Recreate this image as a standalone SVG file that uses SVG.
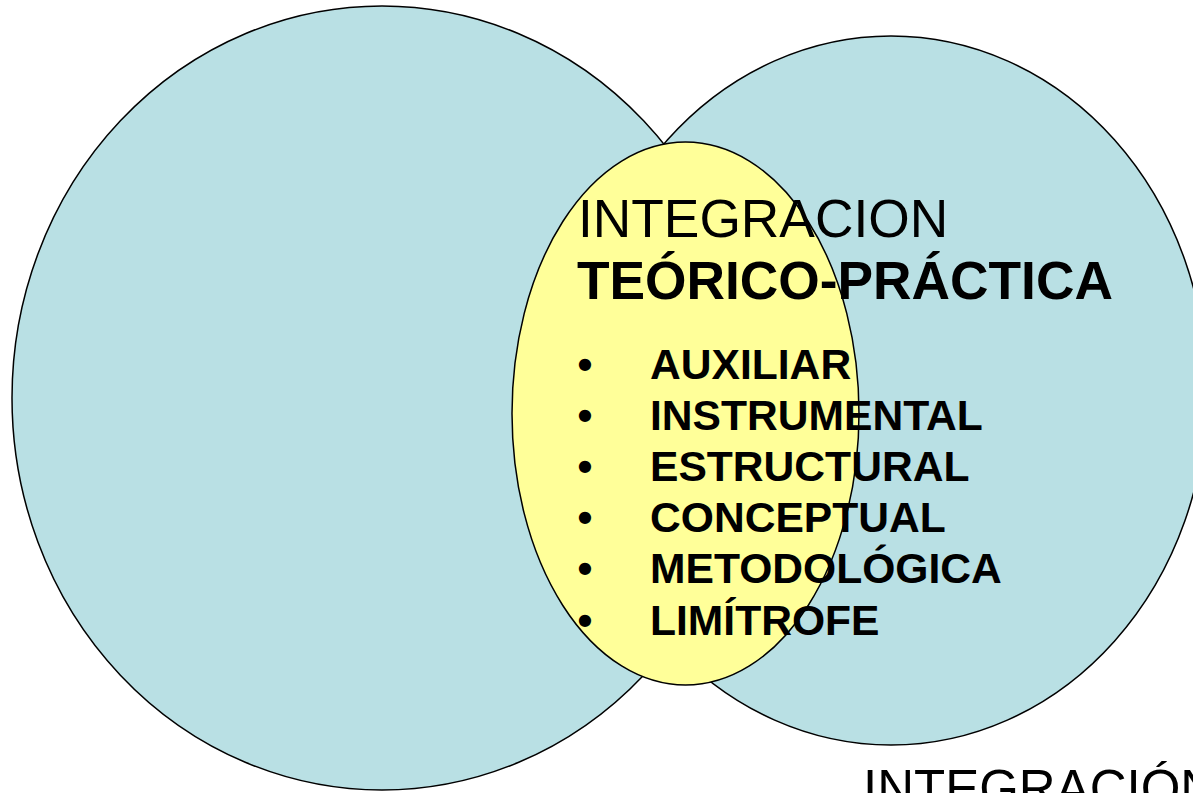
<svg xmlns="http://www.w3.org/2000/svg" width="1193" height="793" viewBox="0 0 1193 793">
<style>
.circle{fill:#B9E0E4;stroke:#000;stroke-width:1.5}
.core{fill:#FFFF99;stroke:#000;stroke-width:1.5}
.t{font-family:"Liberation Sans",Arial,sans-serif;fill:#000}
.title{font-size:53.3px}
.bold{font-weight:bold}
.item{font-size:42.6px;font-weight:bold}
</style>
<rect width="1193" height="793" fill="#fff"/>
<g id="left-circle"><ellipse class="circle" cx="382" cy="398" rx="370" ry="392"/></g>
<g id="right-circle"><ellipse class="circle" cx="891" cy="390.5" rx="316" ry="354.5"/></g>
<g id="core-ellipse"><ellipse class="core" cx="685.5" cy="413.5" rx="173.5" ry="271.5"/></g>
<g id="core-text">
<text class="t title" x="578" y="237">INTEGRACION</text>
<text class="t title bold" x="577" y="299">TEÓRICO-PRÁCTICA</text>
<g id="list">
<text class="t item" x="585" y="379" text-anchor="middle">•</text>
<text class="t item" x="650" y="379">AUXILIAR</text>
<text class="t item" x="585" y="430" text-anchor="middle">•</text>
<text class="t item" x="650" y="430">INSTRUMENTAL</text>
<text class="t item" x="585" y="481" text-anchor="middle">•</text>
<text class="t item" x="650" y="481">ESTRUCTURAL</text>
<text class="t item" x="585" y="532" text-anchor="middle">•</text>
<text class="t item" x="650" y="532">CONCEPTUAL</text>
<text class="t item" x="585" y="583" text-anchor="middle">•</text>
<text class="t item" x="650" y="583">METODOLÓGICA</text>
<text class="t item" x="585" y="635" text-anchor="middle">•</text>
<text class="t item" x="650" y="635">LIMÍTROFE</text>
</g>
</g>
<g id="bottom-label"><text class="t" x="863" y="806" font-size="51">INTEGRACIÓN</text></g>
<g id="connectors"></g>
</svg>
